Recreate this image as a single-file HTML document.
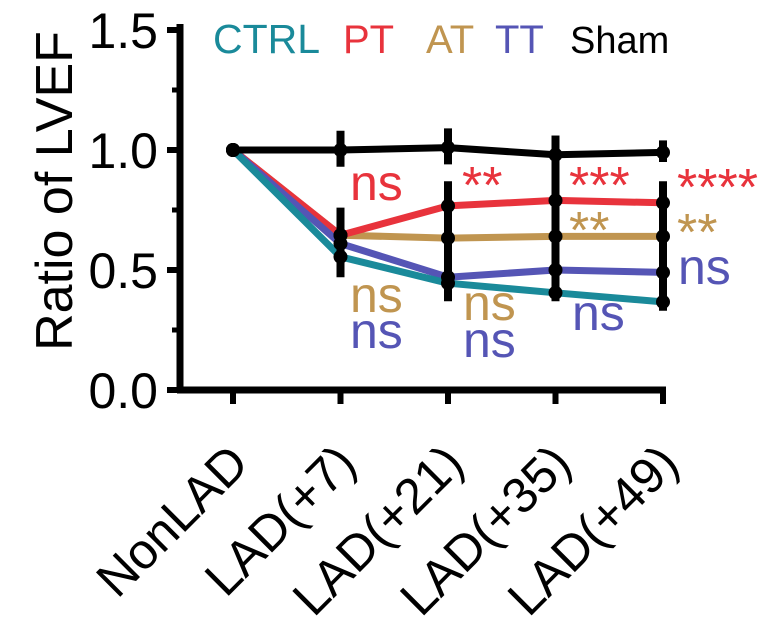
<!DOCTYPE html>
<html><head><meta charset="utf-8"><style>
html,body{margin:0;padding:0;background:#fff;}
svg{display:block;font-family:"Liberation Sans",Arial,sans-serif;}
</style></head><body>
<svg id="chart" width="777" height="637" viewBox="0 0 777 637"></svg>
<script>
const categories = ["NonLAD","LAD(+7)","LAD(+21)","LAD(+35)","LAD(+49)"];
const yTicks = [0.0,0.5,1.0,1.5];
const yTickLabels = ["0.0","0.5","1.0","1.5"];
const ctrlValues = [1.0,0.555,0.445,0.405,0.367];
const ttValues = [1.0,0.61,0.47,0.50,0.49];
const atValues = [1.0,0.645,0.633,0.64,0.64];
const ptValues = [1.0,0.645,0.767,0.79,0.78];
const shamValues = [1.0,1.0,1.01,0.98,0.99];
const shamErrLo = [0,0.93,0.94,0.93,0.95];
const shamErrHi = [0,1.08,1.09,1.06,1.04];
const groupErrLo = [0,0.47,0.37,0.37,0.33];
const groupErrHi = [0,0.76,0.87,1.06,0.87];
const seriesNames = ["CTRL","PT","AT","TT","Sham"];
const seriesColors = ["#1a8a9a","#e8333c","#c09550","#5555b5","#000000"];

const NS="http://www.w3.org/2000/svg";
const svg=document.getElementById('chart');
const xPos=i=>233+i*107.5;
const yPos=v=>390-v*240;
function mk(tag,attrs,parent){const e=document.createElementNS(NS,tag);for(const k in attrs)e.setAttribute(k,attrs[k]);(parent||svg).appendChild(e);return e;}

let a=mk('line',{x1:180,y1:yPos(0),x2:180,y2:24,stroke:'#000','stroke-width':7});


a=mk('line',{x1:177,y1:yPos(0),x2:xPos(4)+3,y2:yPos(0),stroke:'#000','stroke-width':7});


yTicks.forEach((v,i)=>{
  const t=mk('line',{x1:167,y1:yPos(v),x2:180,y2:yPos(v),stroke:'#000','stroke-width':6});
  
  
  const l=mk('text',{x:158,y:yPos(v)+18,'text-anchor':'end','font-size':50});
  l.textContent=yTickLabels[i];
  
  
  if(i<yTicks.length-1){
    const m=mk('line',{x1:172,y1:yPos(v+0.25),x2:180,y2:yPos(v+0.25),stroke:'#000','stroke-width':5});
    
    
  }
});
categories.forEach((c,i)=>{
  const t=mk('line',{x1:xPos(i),y1:yPos(0),x2:xPos(i),y2:yPos(0)+14,stroke:'#000','stroke-width':6});
  
  
  const ax=xPos(i)+18, ay=466;
  const l=mk('text',{x:ax,y:ay,'text-anchor':'end','font-size':50,transform:`rotate(-45 ${ax} ${ay})`});
  l.textContent=c;
  
  
});
let yt=mk('text',{x:72,y:191,'text-anchor':'middle','font-size':52,transform:'rotate(-90 72 191)'});
yt.textContent='Ratio of LVEF';



const legX=[213,343,426,495,570];
const legSize=[41,40,40,40,38];
seriesNames.forEach((n,i)=>{
  const l=mk('text',{x:legX[i],y:53,'font-size':legSize[i],fill:seriesColors[i]});
  l.textContent=n;
  
  
});

function line(vals,color,w,name){
  const p=mk('polyline',{points:vals.map((v,i)=>xPos(i)+','+yPos(v)).join(' '),fill:'none',stroke:color,'stroke-width':w,'stroke-linejoin':'round'});
  
  
}
line(atValues,seriesColors[2],7,'at-line');
line(ptValues,seriesColors[1],7,'pt-line');
line(ttValues,seriesColors[3],7,'tt-line');
line(ctrlValues,seriesColors[0],7,'ctrl-line');
line(shamValues,'#000',7,'sham-line');

function err(lo,hi,name){
  for(let i=1;i<categories.length;i++){
    const g=mk('g',{});
    
    
    mk('line',{x1:xPos(i),y1:yPos(lo[i]),x2:xPos(i),y2:yPos(hi[i]),stroke:'#000','stroke-width':8},g);
  }
}
err(shamErrLo,shamErrHi,'sham-error-bar');
err(groupErrLo,groupErrHi,'group-error-bar');

[ctrlValues,ttValues,atValues,ptValues,shamValues].forEach((vals,s)=>{
  vals.forEach((v,i)=>{
    const c=mk('circle',{cx:xPos(i),cy:yPos(v),r:7,fill:'#000'});
    
    
  });
});

const annotations=[
  ['ns',350,200,50,'#e8333c'],['ns',350,312,50,'#c09550'],['ns',350,348,50,'#5555b5'],
  ['**',462,203,52,'#e8333c'],['ns',463,320,50,'#c09550'],['ns',463,357,50,'#5555b5'],
  ['***',569,203,52,'#e8333c'],['**',569,248,52,'#c09550'],['ns',572,330,50,'#5555b5'],
  ['****',677,205,52,'#e8333c'],['**',677,250,52,'#c09550'],['ns',678,284,50,'#5555b5']
];
annotations.forEach(a=>{
  const t=mk('text',{x:a[1],y:a[2],'font-size':a[3],fill:a[4]});
  t.textContent=a[0];
  
  
});
</script>
</body></html>
